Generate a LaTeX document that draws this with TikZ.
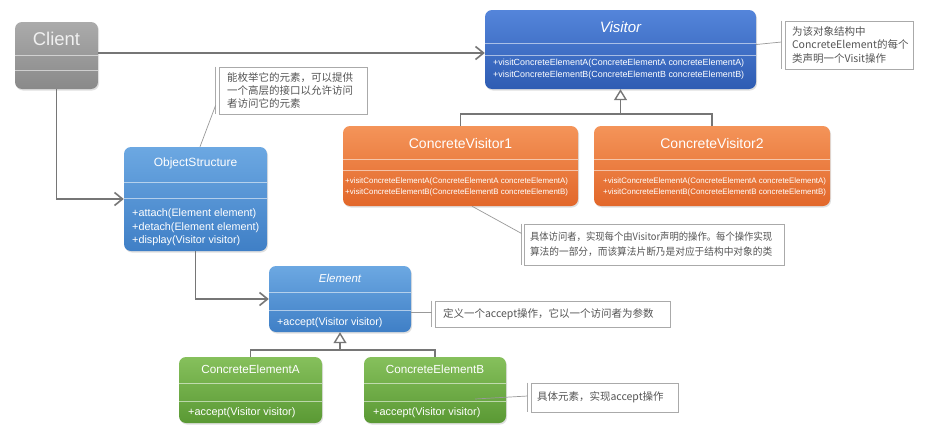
\documentclass[tikz,border=0pt]{standalone}
\usepackage{fontspec}
\setmainfont{Liberation Sans}
\newfontfamily\cjk{Noto Sans CJK SC}
\usetikzlibrary{arrows.meta,shadows}
\definecolor{cgrayT}{HTML}{ABABAB}
\definecolor{cgrayB}{HTML}{898989}
\definecolor{vblueT}{HTML}{5485DA}
\definecolor{vblueB}{HTML}{2E5CB3}
\definecolor{orT}{HTML}{F49459}
\definecolor{orB}{HTML}{E2672A}
\definecolor{lbT}{HTML}{6CA8E2}
\definecolor{lbB}{HTML}{3F7FC6}
\definecolor{grT}{HTML}{86C05C}
\definecolor{grB}{HTML}{5A9934}
\definecolor{conn}{HTML}{767676}
\definecolor{notefr}{HTML}{AAAAAA}
\definecolor{notetx}{HTML}{555555}
\newcommand\fsz[1]{\fontsize{#1}{#1}\selectfont}
\tikzset{
  umlbox/.style={rounded corners=7pt, draw=none, inner sep=0pt,
    drop shadow={shadow xshift=1pt, shadow yshift=-1.5pt, opacity=0.25}},
  sepline/.style={draw=white, draw opacity=0.55, line width=0.7pt},
  btitle/.style={text=white, inner sep=0pt},
  meth/.style={text=white, inner sep=0pt, anchor=west, align=left},
  assoc/.style={draw=conn, line width=1.6pt, -{Straight Barb[length=8pt,width=13pt]}},
  inherit/.style={draw=conn, line width=1.6pt, -{Triangle[open,length=11pt,width=13pt,fill=white,line width=1.4pt]}},
  plainline/.style={draw=conn, line width=1.6pt},
  note/.style={draw=notefr, fill=white, line width=0.8pt, text=notetx, align=left, inner ysep=0pt},
  notebar/.style={draw=notefr, line width=0.8pt},
  noteline/.style={draw=notefr!90!black, line width=0.7pt},
}
\begin{document}
\begin{tikzpicture}[x=1pt,y=-1pt]
\useasboundingbox (0,0) rectangle (927,442);
\fill[white] (0,0) rectangle (927,442);

% ---------- boxes ----------
\node[umlbox, top color=cgrayT, bottom color=cgrayB, minimum width=83pt, minimum height=67pt] (Client) at (56.5,55.5) {};
\draw[sepline] (Client.west |- 0,55) -- (Client.east |- 0,55);
\draw[sepline] (Client.west |- 0,70) -- (Client.east |- 0,70);
\node[btitle, text=white!94!black, font=\fsz{18.5}] (ClientT) at (56.5,39) {Client};

\node[umlbox, top color=vblueT, bottom color=vblueB, minimum width=271pt, minimum height=79pt] (Visitor) at (620.5,49.5) {};
\draw[sepline] (Visitor.west |- 0,43) -- (Visitor.east |- 0,43);
\draw[sepline] (Visitor.west |- 0,55) -- (Visitor.east |- 0,55);
\node[btitle, font=\fsz{15}\itshape] (VisitorT) at (620.5,27) {Visitor};
\node[meth, font=\fontsize{8.9}{12}\selectfont] (VisitorM) at (493,69) {+visitConcreteElementA(ConcreteElementA concreteElementA)\\+visitConcreteElementB(ConcreteElementB concreteElementB)};

\node[umlbox, top color=orT, bottom color=orB, minimum width=235pt, minimum height=80pt] (CV1) at (460.5,166) {};
\draw[sepline] (CV1.west |- 0,159) -- (CV1.east |- 0,159);
\draw[sepline] (CV1.west |- 0,170) -- (CV1.east |- 0,170);
\node[btitle, font=\fsz{14}] (CV1T) at (460.5,143) {ConcreteVisitor1};
\node[meth, font=\fontsize{7.9}{11}\selectfont] (CV1M) at (345,186.5) {+visitConcreteElementA(ConcreteElementA concreteElementA)\\+visitConcreteElementB(ConcreteElementB concreteElementB)};

\node[umlbox, top color=orT, bottom color=orB, minimum width=236pt, minimum height=80pt] (CV2) at (712,166) {};
\draw[sepline] (CV2.west |- 0,159) -- (CV2.east |- 0,159);
\draw[sepline] (CV2.west |- 0,170) -- (CV2.east |- 0,170);
\node[btitle, font=\fsz{14}] (CV2T) at (712,143) {ConcreteVisitor2};
\node[meth, font=\fontsize{7.9}{11}\selectfont] (CV2M) at (603,186.5) {+visitConcreteElementA(ConcreteElementA concreteElementA)\\+visitConcreteElementB(ConcreteElementB concreteElementB)};

\node[umlbox, top color=lbT, bottom color=lbB, minimum width=143pt, minimum height=104pt] (OS) at (195.5,199) {};
\draw[sepline] (OS.west |- 0,182) -- (OS.east |- 0,182);
\draw[sepline] (OS.west |- 0,198) -- (OS.east |- 0,198);
\node[btitle, font=\fsz{12}] (OST) at (195.5,163) {ObjectStructure};
\node[meth, font=\fontsize{10.8}{13.5}\selectfont] (OSM) at (132,227.5) {+attach(Element element)\\+detach(Element element)\\+display(Visitor visitor)};

\node[umlbox, top color=lbT, bottom color=lbB, minimum width=142pt, minimum height=66pt] (Element) at (340,299) {};
\draw[sepline] (Element.west |- 0,292) -- (Element.east |- 0,292);
\draw[sepline] (Element.west |- 0,310) -- (Element.east |- 0,310);
\node[btitle, font=\fsz{11.5}\itshape] (ElementT) at (340,278) {Element};
\node[meth, font=\fsz{10.7}] (ElementM) at (277,323) {+accept(Visitor visitor)};

\node[umlbox, top color=grT, bottom color=grB, minimum width=143pt, minimum height=66pt] (CEA) at (250.5,390) {};
\draw[sepline] (CEA.west |- 0,383) -- (CEA.east |- 0,383);
\draw[sepline] (CEA.west |- 0,401) -- (CEA.east |- 0,401);
\node[btitle, font=\fsz{11.7}] (CEAT) at (250.5,369) {ConcreteElementA};
\node[meth, font=\fsz{10.9}] (CEAM) at (188,413) {+accept(Visitor visitor)};

\node[umlbox, top color=grT, bottom color=grB, minimum width=142pt, minimum height=66pt] (CEB) at (435,390) {};
\draw[sepline] (CEB.west |- 0,383) -- (CEB.east |- 0,383);
\draw[sepline] (CEB.west |- 0,401) -- (CEB.east |- 0,401);
\node[btitle, font=\fsz{11.7}] (CEBT) at (435,369) {ConcreteElementB};
\node[meth, font=\fsz{10.9}] (CEBM) at (373,413) {+accept(Visitor visitor)};

% ---------- connectors ----------
\draw[assoc] (Client.east |- 0,53) -- (Visitor.west |- 0,53);
\draw[assoc] (Client.south) |- (OS.west);
\draw[assoc] (OS.south) |- (Element.west);

\coordinate (vjoin) at (Visitor.south |- 0,114);
\draw[plainline] (CV1.north) |- (vjoin) -| (CV2.north);
\draw[inherit] (vjoin) -- (Visitor.south);

\coordinate (ejoin) at (Element.south |- 0,350);
\draw[plainline] (CEA.north) |- (ejoin) -| (CEB.north);
\draw[inherit] (ejoin) -- (Element.south);

% ---------- notes ----------
\node[note, font=\cjk\fontsize{10.5}{13}\selectfont, minimum width=148pt, minimum height=47pt, text width=132pt, inner xsep=8pt] (OSN) at (293,90.5) {能枚举它的元素，可以提供\\一个高层的接口以允许访问\\者访问它的元素};
\draw[notebar] ([xshift=-3pt]OSN.north west) -- ([xshift=-3pt]OSN.south west);
\draw[noteline] ([xshift=4.5pt]OS.north) -- ([xshift=-3pt,yshift=9pt]OSN.south west);

\node[note, font=\cjk\fontsize{10.5}{13.5}\selectfont, minimum width=128pt, minimum height=48pt, text width=114pt, inner xsep=7pt] (VN) at (849,45) {为该对象结构中\\ConcreteElement的每个\\类声明一个Visit操作};
\draw[notebar] ([xshift=-3pt]VN.north west) -- ([xshift=-3pt]VN.south west);
\draw[noteline] ([yshift=5pt]Visitor.east) -- ([xshift=-3pt,yshift=3pt]VN.west);

\node[note, font=\cjk\fontsize{10.2}{15}\selectfont, minimum width=260pt, minimum height=41pt, text width=248pt, inner xsep=6pt] (CVN) at (654,244.5) {\scalebox{0.915}[1]{具体访问者，实现每个由Visitor声明的操作。每个操作实现}\\\scalebox{0.95}[1]{算法的一部分，而该算法片断乃是对应于结构中对象的类}};
\draw[notebar] ([xshift=-2pt]CVN.north west) -- ([xshift=-2pt]CVN.south west);
\draw[noteline] ([xshift=11.5pt]CV1.south) -- ([xshift=-2pt,yshift=11pt]CVN.west);

\node[note, font=\cjk\fontsize{10.5}{13}\selectfont, minimum width=235pt, minimum height=26pt, text width=219pt, inner xsep=8pt] (EN) at (552.5,314) {定义一个accept操作，它以一个访问者为参数};
\draw[notebar] ([xshift=-3pt]EN.north west) -- ([xshift=-3pt]EN.south west);
\draw[noteline] ([yshift=-13pt]Element.east) -- ([xshift=-3pt,yshift=2pt]EN.west);

\node[note, font=\cjk\fontsize{10.5}{13}\selectfont, minimum width=147pt, minimum height=29pt, text width=135pt, inner xsep=6pt] (CEBN) at (604.5,397.5) {具体元素，实现accept操作};
\draw[notebar] ([xshift=-3pt]CEBN.north west) -- ([xshift=-3pt]CEBN.south west);
\draw[noteline] ([xshift=40pt,yshift=-9pt]CEB.center) -- ([xshift=-3pt,yshift=1.5pt]CEBN.west);
\end{tikzpicture}
\end{document}
